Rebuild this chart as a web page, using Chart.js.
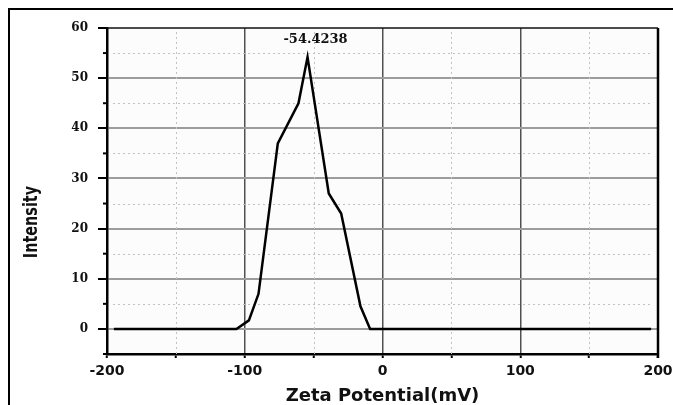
<!DOCTYPE html>
<html>
<head>
<meta charset="utf-8">
<script src="https://cdn.jsdelivr.net/npm/chart.js@4.4.1/dist/chart.umd.min.js"></script>
<style>
  body { margin: 0; background: #fff; }
  #wrap { width: 673px; height: 405px; position: relative; }
</style>
</head>
<body>
<div id="wrap"><canvas id="chart-zeta"></canvas></div>
<script>
// zeta potential distribution
const zetaMv = [-195, -106, -97, -90, -76, -61, -54.4238, -39, -30, -16, -9, 195];
const intensity = [0, 0, 1.7, 7, 37, 45, 54.2, 27, 23, 4.5, 0, 0];
const peakLabel = '-54.4238';
const xTickLabels = [-200, -100, 0, 100, 200];
const yTickLabels = [0, 10, 20, 30, 40, 50, 60];

const isMajorX = v => xTickLabels.includes(v);
const isMajorY = v => yTickLabels.includes(v);

const frame = {
    id: 'frame',
    beforeDraw(chart) {
        const { ctx, chartArea: a } = chart;
        ctx.save();
        ctx.fillStyle = '#fcfcfc';
        ctx.fillRect(a.left, a.top, a.right - a.left, a.bottom - a.top);
        ctx.restore();
    },
    beforeDatasetsDraw(chart) {
        const { ctx, chartArea: a, scales: { x, y } } = chart;
        ctx.save();
        // dotted minor grid
        ctx.strokeStyle = '#c2c2c2';
        ctx.lineWidth = 1;
        ctx.setLineDash([2, 3]);
        for (let v = -150; v < 200; v += 100) {
            const px = Math.round(x.getPixelForValue(v)) + 0.5;
            ctx.beginPath();
            ctx.moveTo(px, a.top + 4);
            ctx.lineTo(px, a.bottom);
            ctx.stroke();
        }
        for (let v = 5; v < 60; v += 10) {
            const py = Math.round(y.getPixelForValue(v)) + 0.5;
            ctx.beginPath();
            ctx.moveTo(a.left + 6, py);
            ctx.lineTo(a.right - 6, py);
            ctx.stroke();
        }
        ctx.setLineDash([]);
        // short minor ticks on the left axis
        ctx.strokeStyle = '#000';
        ctx.lineWidth = 2;
        for (let v = -5; v < 60; v += 10) {
            const py = y.getPixelForValue(v);
            ctx.beginPath();
            ctx.moveTo(a.left - 4, py);
            ctx.lineTo(a.left, py);
            ctx.stroke();
        }
        ctx.restore();
    },
    afterDraw(chart) {
        const { ctx, chartArea: a, scales: { x, y }, data } = chart;
        ctx.save();
        // plot box top / right
        ctx.strokeStyle = '#111';
        ctx.lineWidth = 1.5;
        ctx.beginPath();
        ctx.moveTo(a.left, a.top);
        ctx.lineTo(a.right, a.top);
        ctx.stroke();
        ctx.lineWidth = 2.5;
        ctx.strokeStyle = '#000';
        ctx.beginPath();
        ctx.moveTo(a.right, a.top);
        ctx.lineTo(a.right, a.bottom + 4);
        ctx.stroke();

        // outer frame (top and left only visible)
        ctx.lineWidth = 2;
        ctx.beginPath();
        ctx.moveTo(9, 405);
        ctx.lineTo(9, 9);
        ctx.lineTo(673, 9);
        ctx.stroke();

        // peak label
        const pts = data.datasets[0].data;
        let top = pts[0];
        pts.forEach(p => { if (p.y > top.y) top = p; });
        ctx.fillStyle = '#111';
        ctx.font = 'bold 13px "DejaVu Serif", serif';
        ctx.textAlign = 'center';
        ctx.textBaseline = 'middle';
        ctx.fillText(peakLabel, x.getPixelForValue(top.x) + 8, y.getPixelForValue(top.y) - 17);

        // y axis title, condensed
        ctx.font = 'bold 20px "DejaVu Sans", sans-serif';
        ctx.translate(32, 222);
        ctx.rotate(-Math.PI / 2);
        ctx.scale(0.72, 1);
        ctx.fillText('Intensity', 0, 0);
        ctx.restore();
    }
};

new Chart(document.getElementById('chart-zeta'), {
    type: 'scatter',
    data: {
        datasets: [{
            data: zetaMv.map((v, i) => ({ x: v, y: intensity[i] })),
            showLine: true,
            borderColor: '#000',
            borderWidth: 2.5,
            pointRadius: 0,
            tension: 0
        }]
    },
    options: {
        responsive: true,
        maintainAspectRatio: false,
        animation: false,
        layout: { padding: { top: 28, right: 15, left: 0, bottom: 0 } },
        plugins: { legend: { display: false }, tooltip: { enabled: false } },
        scales: {
            x: {
                type: 'linear',
                min: -200,
                max: 200,
                afterFit: s => { s.height = 51; s.paddingLeft = 0; s.paddingRight = 0; },
                ticks: {
                    stepSize: 50,
                    padding: 5,
                    color: '#111',
                    font: { family: '"DejaVu Sans", sans-serif', weight: 'bold', size: 14 },
                    callback: v => isMajorX(v) ? String(v) : ''
                },
                grid: {
                    color: c => {
                        const v = c.tick ? c.tick.value : 0;
                        if (!isMajorX(v) || v === -200 || v === 200) return 'rgba(0,0,0,0)';
                        return '#505050';
                    },
                    lineWidth: 1.5,
                    tickColor: '#000',
                    tickLength: 4,
                    tickWidth: 2
                },
                border: { color: '#000', width: 2.5 },
                title: {
                    display: true,
                    text: 'Zeta Potential(mV)',
                    color: '#111',
                    font: { family: '"DejaVu Sans", sans-serif', weight: 'bold', size: 18, lineHeight: 1 },
                    padding: { top: 0, bottom: 0 }
                }
            },
            y: {
                min: -5,
                max: 60,
                afterFit: s => { s.width = 107; s.paddingTop = 0; s.paddingBottom = 0; },
                ticks: {
                    stepSize: 5,
                    padding: 10,
                    color: '#111',
                    font: { family: '"DejaVu Serif", serif', weight: 'bold', size: 12 },
                    callback: v => isMajorY(v) ? String(v) : ''
                },
                grid: {
                    color: c => {
                        const v = c.tick ? c.tick.value : 0;
                        if (!isMajorY(v) || v === 60) return 'rgba(0,0,0,0)';
                        return '#9c9c9c';
                    },
                    lineWidth: 2,
                    tickColor: c => (c.tick && isMajorY(c.tick.value)) ? '#000' : 'rgba(0,0,0,0)',
                    tickLength: 9,
                    tickWidth: 2
                },
                border: { color: '#000', width: 2.5 }
            }
        }
    },
    plugins: [frame]
});
</script>
</body>
</html>
